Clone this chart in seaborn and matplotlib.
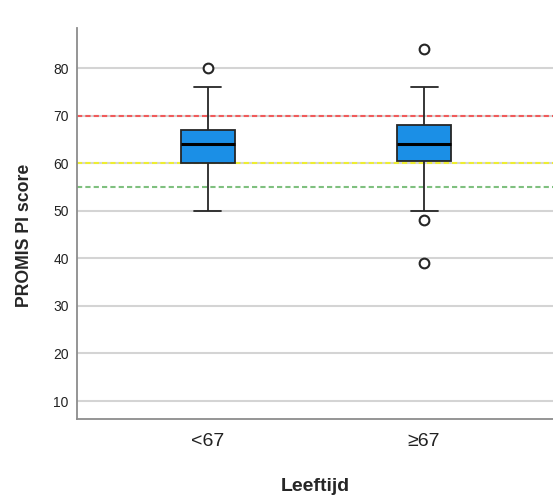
import numpy as np
import pandas as pd
import matplotlib
matplotlib.use("Agg")
import matplotlib.pyplot as plt
import seaborn as sns

# Values (box statistics reproduced exactly by these samples)
categories = ["<67", "\u226567"]
scores_lt67 = [50, 60, 60, 64, 64, 64, 67, 76, 80]
scores_ge67 = [39, 48, 50, 60.5, 64, 64, 64, 64, 64, 68, 68, 76, 84]
ref_lines = [70, 60, 55]
ref_colors = ["#f05a5a", "#eeee30", "#7fc07f"]
yticks = [10, 20, 30, 40, 50, 60, 70, 80]

df = pd.DataFrame({
    "Leeftijd": [categories[0]] * len(scores_lt67) + [categories[1]] * len(scores_ge67),
    "score": scores_lt67 + scores_ge67,
})

sns.set_theme(style="white")
plt.rcParams["font.family"] = ["Liberation Sans", "DejaVu Sans"]

fig = plt.figure(figsize=(5.53, 4.98), dpi=100)
ax = fig.add_axes([77 / 553, 1 - 419 / 498, 1 - 77 / 553, (419 - 28) / 498])

for y in yticks:
    ax.axhline(y, color="#d4d4d4", lw=1.5, zorder=0)

for y, c in zip(ref_lines, ref_colors):
    ax.axhline(y, color=c, lw=1.5, ls=(0, (2.5, 1.5)), zorder=1)

sns.boxplot(
    data=df, x="Leeftijd", y="score", order=categories,
    width=0.25, color="#1b8fe6", saturation=1, whis=1.5,
    linecolor="#262626", linewidth=1.3,
    medianprops=dict(color="black", linewidth=2.2),
    flierprops=dict(marker="o", markersize=7, markerfacecolor="white",
                    markeredgecolor="#262626", markeredgewidth=1.5),
    ax=ax, zorder=3,
)

ax.set_xlim(-0.606, 1.597)
ax.set_ylim(6.22, 88.41)
ax.set_yticks(yticks)
ax.tick_params(axis="y", length=0, labelsize=10, pad=6, colors="#222222")
ax.tick_params(axis="x", length=0, labelsize=14, pad=10, colors="#222222")
ax.set_ylabel("PROMIS PI score", fontsize=12.7, fontweight="bold")
ax.yaxis.set_label_coords(-0.092, 0.47)
ax.set_xlabel("Leeftijd", fontsize=14, fontweight="bold", labelpad=20)

for s in ["top", "right"]:
    ax.spines[s].set_visible(False)
for s in ["left", "bottom"]:
    ax.spines[s].set_color("#8c8c8c")
    ax.spines[s].set_linewidth(1.3)

fig.savefig("out.png", dpi=100)
